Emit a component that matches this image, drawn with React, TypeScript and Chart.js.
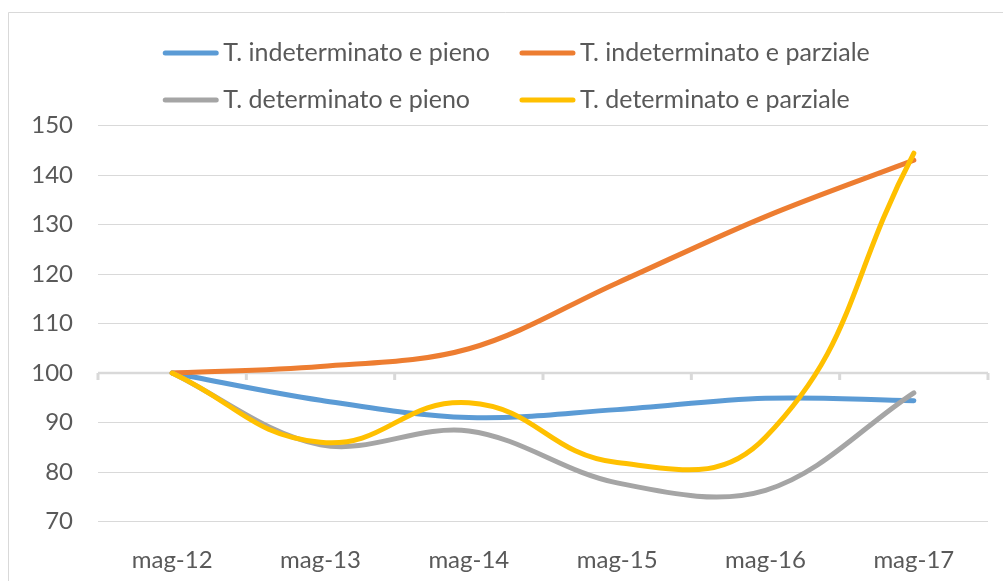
import React, { useEffect, useRef } from "react";
import { Chart, registerables } from "chart.js";

Chart.register(...registerables);

const categories = ["mag-12", "mag-13", "mag-14", "mag-15", "mag-16", "mag-17"];
const indetPieno = [100, 94.5, 91, 92.6, 94.9, 94.4];
const indetParziale = [100, 101.3, 104.9, 118.2, 131.6, 143];
const detPieno = [100, 85.5, 88.3, 77.8, 76.3, 96];
const detParziale = [100, 86, 94, 81.9, 87, 144.4];
const seriesLabels = [
  "T. indeterminato e pieno",
  "T. indeterminato e parziale",
  "T. determinato e pieno",
  "T. determinato e parziale",
];
const yMin = 70;
const yMax = 150;
const yStep = 10;
const axisCross = 100;

const FONT = "Lato";
const TEXT = "#595959";
const GRID = "#d9d9d9";

const framePlugin = {
  id: "frame",
  beforeDraw(chart: any) {
    const ctx = chart.ctx;
    ctx.save();
    ctx.fillStyle = "#ffffff";
    ctx.fillRect(0, 0, chart.width, chart.height);
    ctx.strokeStyle = GRID;
    ctx.lineWidth = 1;
    ctx.beginPath();
    ctx.moveTo(8.5, chart.height);
    ctx.lineTo(8.5, 12.5);
    ctx.lineTo(chart.width, 12.5);
    ctx.stroke();
    ctx.restore();
  },
};

const crossAxisPlugin = {
  id: "crossAxis",
  beforeDatasetsDraw(chart: any) {
    const ctx = chart.ctx;
    const { left, right } = chart.chartArea;
    const y = chart.scales.y.getPixelForValue(axisCross);
    const n = chart.data.labels.length;
    ctx.save();
    ctx.strokeStyle = GRID;
    ctx.lineWidth = 2.5;
    ctx.beginPath();
    ctx.moveTo(left, y);
    ctx.lineTo(right, y);
    ctx.stroke();
    ctx.lineWidth = 3;
    for (let i = 0; i <= n; i++) {
      const x = left + ((right - left) * i) / n;
      ctx.beginPath();
      ctx.moveTo(x, y);
      ctx.lineTo(x, y + 7);
      ctx.stroke();
    }
    ctx.restore();
  },
};

const legendPlugin = {
  id: "gridLegend",
  afterDraw(chart: any) {
    const ctx = chart.ctx;
    ctx.save();
    ctx.font = `25px ${FONT}`;
    const items = chart.data.datasets.map((d: any) => ({ label: d.label, color: d.borderColor }));
    const lineLen = 55;
    const gap = 5;
    const colGap = 30;
    const cols = 2;
    const colW: number[] = [];
    for (let c = 0; c < cols; c++) {
      let w = 0;
      items.forEach((it: any, i: number) => {
        if (i % cols === c) w = Math.max(w, lineLen + gap + ctx.measureText(it.label).width);
      });
      colW.push(w);
    }
    const total = colW[0] + colGap + colW[1];
    const startX = 516.5 - total / 2;
    const rowsY = [53, 100];
    items.forEach((it: any, i: number) => {
      const c = i % cols;
      const r = Math.floor(i / cols);
      const x = startX + (c === 0 ? 0 : colW[0] + colGap);
      const y = rowsY[r];
      ctx.strokeStyle = it.color;
      ctx.lineWidth = 5;
      ctx.lineCap = "round";
      ctx.beginPath();
      ctx.moveTo(x + 2, y);
      ctx.lineTo(x + lineLen - 2, y);
      ctx.stroke();
      ctx.fillStyle = TEXT;
      ctx.textBaseline = "middle";
      ctx.textAlign = "left";
      ctx.fillText(it.label, x + lineLen + gap, y);
    });
    ctx.restore();
  },
};

export default function App() {
  const ref = useRef<HTMLCanvasElement | null>(null);
  useEffect(() => {
    if (!ref.current) return;
    const colors = ["#5b9bd5", "#ed7d31", "#a5a5a5", "#ffc000"];
    const tensions = [0.35, 0.35, 0.35, 0.45];
    const series = [indetPieno, indetParziale, detPieno, detParziale];
    const chart = new Chart(ref.current, {
      type: "line",
      data: {
        labels: categories,
        datasets: series.map((s, i) => ({
          label: seriesLabels[i],
          data: s,
          borderColor: colors[i],
          backgroundColor: colors[i],
          borderWidth: 5,
          borderCapStyle: "round",
          borderJoinStyle: "round",
          pointRadius: 0,
          tension: tensions[i],
          fill: false,
          order: 4 - i,
        })),
      },
      options: {
        responsive: false,
        animation: false,
        devicePixelRatio: 1,
        layout: { padding: { left: 0, top: 125.5, right: 15, bottom: 0 } },
        plugins: {
          legend: { display: false },
          tooltip: { enabled: false },
          title: { display: false },
        },
        scales: {
          x: {
            type: "category",
            offset: true,
            grid: { display: false, drawTicks: false },
            border: { display: false },
            ticks: {
              color: TEXT,
              font: { family: FONT, size: 24 },
              padding: 24,
              maxRotation: 0,
            },
            afterFit(scale: any) {
              scale.height = 59.5;
            },
          },
          y: {
            min: yMin,
            max: yMax,
            grid: { color: GRID, lineWidth: 1, drawTicks: false },
            border: { display: false },
            ticks: {
              stepSize: yStep,
              color: TEXT,
              font: { family: FONT, size: 24 },
              padding: 25,
            },
            afterFit(scale: any) {
              scale.width = 98;
            },
          },
        },
      },
      plugins: [framePlugin, crossAxisPlugin, legendPlugin],
    } as any);
    return () => chart.destroy();
  }, []);
  return (
    <div style={{ position: "absolute", left: 0, top: 0, width: 1003, height: 581 }}>
      <canvas ref={ref} width={1003} height={581} />
    </div>
  );
}
